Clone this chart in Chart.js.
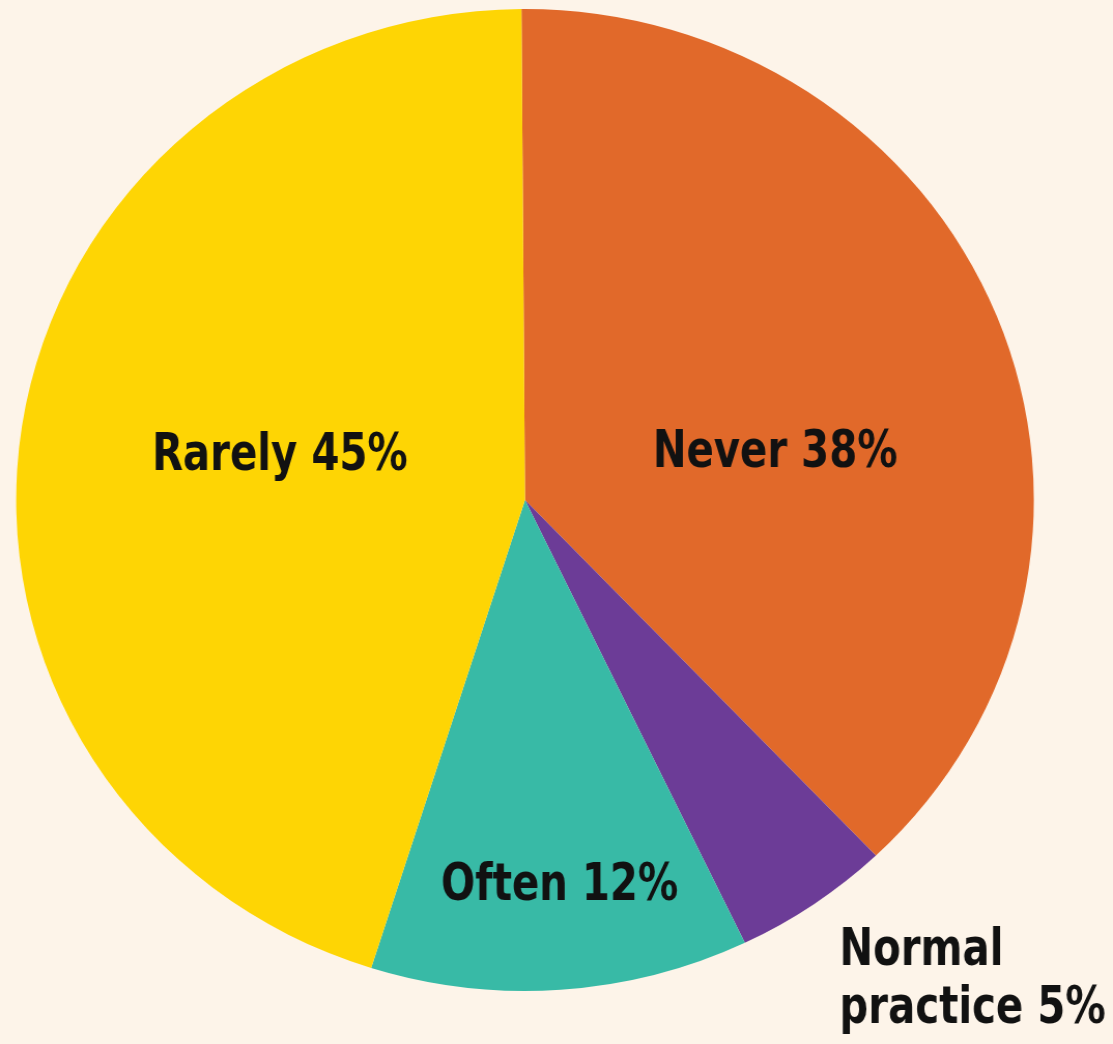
<!DOCTYPE html>
<html>
<head>
<meta charset="utf-8">
<script src="https://cdn.jsdelivr.net/npm/chart.js@4/dist/chart.umd.min.js"></script>
<style>
  html, body { margin: 0; padding: 0; background: #FDF4E9; overflow: hidden; }
  #wrap { width: 1074px; height: 1044px; transform: scaleX(1.0363); transform-origin: 0 0; }
  canvas { display: block; }
</style>
</head>
<body>
<div id="wrap"><canvas id="c" width="1074" height="1044"></canvas></div>
<script>
const categories = ["Never", "Normal practice", "Often", "Rarely"];
const values = [38, 5, 12, 45];
const labelTexts = [["Never 38%"], ["Normal", "practice 5%"], ["Often 12%"], ["Rarely 45%"]];
const colors = ["#E1692A", "#6C3C97", "#38BAA6", "#FED504"];

const FONT = "'Liberation Sans Narrow', 'DejaVu Sans Condensed', 'Arial Narrow', sans-serif";

const labelPlugin = {
  id: 'sliceLabels',
  afterDatasetsDraw(chart, args, opts) {
    const ctx = chart.ctx;
    opts.positions.forEach((p, i) => {
      labelTexts[i].forEach((line, j) => {
        ctx.save();
        ctx.fillStyle = '#111111';
        ctx.font = 'bold ' + opts.size + 'px ' + FONT;
        ctx.textAlign = p.align;
        ctx.textBaseline = 'alphabetic';
        ctx.translate(p.x, p.y + j * opts.lineGap);
        ctx.scale(opts.squeeze, 1);
        ctx.fillText(line, 0, 0);
        ctx.restore();
      });
    });
  }
};

new Chart(document.getElementById('c'), {
  type: 'pie',
  data: {
    labels: categories,
    datasets: [{
      data: values,
      backgroundColor: colors,
      borderWidth: 0
    }]
  },
  options: {
    responsive: false,
    animation: false,
    rotation: -0.4,
    layout: { padding: { left: 15.6, right: 76.4, top: 9, bottom: 53 } },
    plugins: {
      legend: { display: false },
      tooltip: { enabled: false },
      sliceLabels: {
        size: 52,
        squeeze: 0.83,
        lineGap: 58,
        positions: [
          { x: 748, y: 467, align: 'center' },
          { x: 810, y: 965, align: 'left' },
          { x: 540, y: 900, align: 'center' },
          { x: 270, y: 470, align: 'center' }
        ]
      }
    }
  },
  plugins: [labelPlugin]
});
</script>
</body>
</html>
